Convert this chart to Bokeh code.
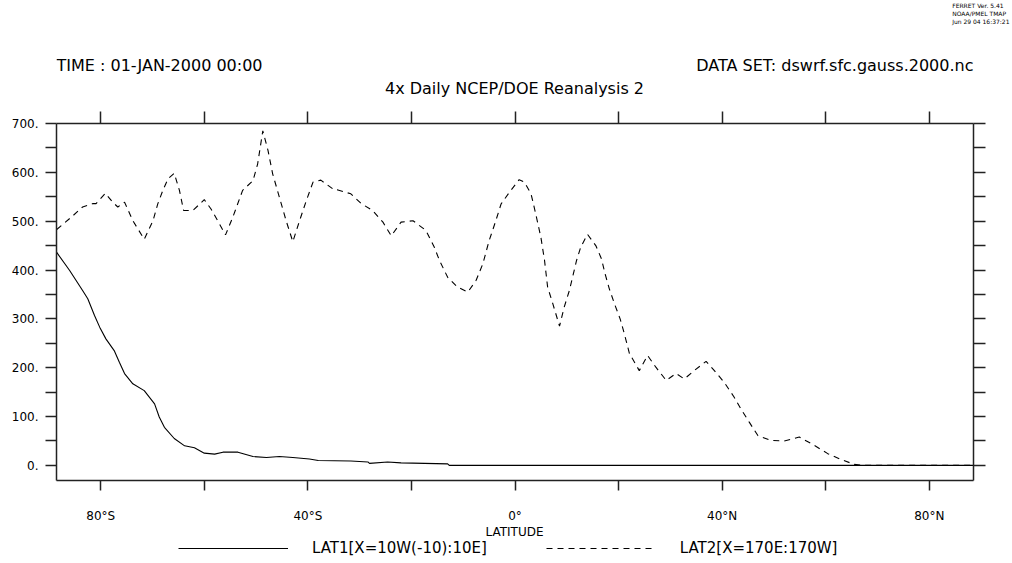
from bokeh.plotting import figure
from bokeh.layouts import column
from bokeh.models import LinearAxis, FixedTicker, Range1d, Label, Legend, LegendItem, Title
from bokeh.embed import file_html
from bokeh.resources import INLINE

# ---- data ----
lat1 = [-88.5, -86.0, -83.5, -82.5, -81.2, -80.2, -79.0, -77.4, -76.4, -75.4, -73.8, -71.6,
        -69.6, -68.7, -67.7, -65.8, -63.8, -61.9, -60.0, -58.0, -56.4, -53.5, -50.6, -48.0,
        -45.5, -42.9, -39.7, -38.0, -31.7, -28.4, -28.1, -24.6, -22.0, -13.0, -12.7, 88.5]
dswrf1 = [436, 399, 358, 341, 307, 283, 259, 235, 211, 188, 167, 153,
          126, 99, 78, 55, 40, 36, 25, 23, 27, 27, 18, 16,
          18, 16, 13, 10, 9, 7, 4, 7, 5, 3, 0, 0]

lat2 = [-88.5, -85.7, -83.5, -81.5, -80.9, -79.1, -77.7, -76.7, -75.4, -73.8, -71.6, -69.9,
        -69.0, -68.0, -67.0, -65.8, -64.8, -64.0, -62.2, -60.0, -58.7, -57.1, -55.9, -54.5,
        -52.6, -50.6, -49.7, -48.7, -47.7, -46.8, -45.5, -44.2, -42.9, -41.6, -40.3, -39.0,
        -37.5, -34.9, -34.2, -31.7, -29.7, -27.5, -25.5, -23.9, -22.0, -19.7, -17.2, -15.6,
        -14.6, -13.0, -11.1, -9.1, -7.5, -6.2, -5.0, -3.7, -2.7, -1.1, 0.8, 1.8,
        3.1, 4.0, 5.0, 5.7, 6.3, 7.3, 8.6, 9.5, 10.5, 11.9, 12.7, 14.0,
        15.6, 16.7, 17.4, 18.2, 19.2, 20.3, 21.1, 22.1, 24.0, 25.6, 27.2, 29.2,
        31.1, 32.7, 34.6, 36.9, 38.5, 40.4, 42.3, 43.6, 45.2, 46.9, 49.4, 52.0,
        54.9, 57.8, 60.4, 63.0, 65.5, 67.5, 88.5]
dswrf2 = [483, 508, 529, 536, 536, 557, 539, 529, 539, 501, 463, 501,
          535, 563, 587, 598, 563, 522, 522, 544, 525, 495, 472, 508,
          563, 583, 617, 685, 645, 597, 549, 501, 458, 501, 542, 580,
          584, 564, 564, 556, 536, 522, 498, 470, 498, 501, 481, 447,
          420, 385, 365, 355, 379, 413, 460, 501, 535, 559, 585, 580,
          556, 515, 467, 420, 365, 331, 285, 324, 358, 420, 447, 473,
          450, 423, 392, 362, 331, 300, 270, 229, 194, 225, 201, 174,
          188, 177, 194, 213, 194, 170, 140, 116, 89, 61, 51, 50,
          58, 41, 24, 12, 2, 0, 0]

x_major = [-80, -40, 0, 40, 80]
x_minor = [-60, -20, 20, 60]
x_labels = ["80°S", "40°S", "0°", "40°N", "80°N"]
y_major = [0, 100, 200, 300, 400, 500, 600, 700]
y_minor = [50, 150, 250, 350, 450, 550, 650]
y_labels = ["0.", "100.", "200.", "300.", "400.", "500.", "600.", "700."]
series_names = ["LAT1[X=10W(-10):10E]", "LAT2[X=170E:170W]"]

FONT = "DejaVu Sans"
W = 1012
HEAD_H = 100
HEAD_TOP = 26
F_LEFT, F_RIGHT, F_TOP, F_H = 56, 973, 123, 357
FOOT_H = 38
FOOT_TOP = 563 - FOOT_H

# ---- header strip (texts above the plot) ----
head = figure(width=W, frame_height=HEAD_H - HEAD_TOP,
              x_range=Range1d(F_LEFT, F_RIGHT), y_range=Range1d(HEAD_H, HEAD_TOP),
              output_backend="svg", toolbar_location=None,
              min_border_left=F_LEFT, min_border_right=W - F_RIGHT,
              min_border_top=HEAD_TOP, min_border_bottom=0,
              x_axis_location=None, y_axis_location=None)
head.grid.visible = False
head.outline_line_color = None

head.add_layout(Title(text="FERRET Ver. 5.41\nNOAA/PMEL TMAP\nJun 29 04 16:37:21",
                      align="right", offset=-(W - F_RIGHT - 3), standoff=0,
                      vertical_align="top", text_font=FONT, text_font_size="6px",
                      text_font_style="normal", text_line_height=1.15,
                      text_color="black"), "above")


def add_label(fig, x, y, text, size, align="left"):
    fig.add_layout(Label(x=x, y=y, text=text, text_font=FONT, text_font_size=size,
                         text_align=align, text_baseline="middle", text_color="black"))


add_label(head, 56, 65, "TIME : 01-JAN-2000 00:00", "16px")
add_label(head, 973, 65, "DATA SET: dswrf.sfc.gauss.2000.nc", "16px", "right")
add_label(head, 514, 88, "4x Daily NCEP/DOE Reanalysis 2", "16px", "center")

# ---- main plot ----
p = figure(frame_width=F_RIGHT - F_LEFT, frame_height=F_H,
           x_range=Range1d(-88.54, 88.54), y_range=Range1d(-31, 700),
           output_backend="svg", toolbar_location=None,
           min_border_left=F_LEFT, min_border_top=F_TOP - HEAD_H, min_border_right=W - F_RIGHT,
           min_border_bottom=0,
           x_axis_location=None, y_axis_location=None)
p.xgrid.visible = False
p.ygrid.visible = False
p.outline_line_color = None


def style_axis(ax, out):
    ax.axis_line_color = "#222222"
    ax.axis_line_width = 1.5
    ax.major_tick_line_color = "#222222"
    ax.minor_tick_line_color = "#222222"
    ax.major_tick_line_width = 1.5
    ax.minor_tick_line_width = 1.5
    ax.major_tick_in = 0
    ax.minor_tick_in = 0
    ax.major_tick_out = out
    ax.minor_tick_out = out
    ax.major_label_text_font = FONT
    ax.major_label_text_color = "black"


xb = LinearAxis(ticker=FixedTicker(ticks=x_major, minor_ticks=x_minor),
                major_label_overrides=dict(zip(x_major, x_labels)))
style_axis(xb, 10)
xb.major_label_text_font_size = "12px"
xb.major_label_standoff = 18
p.add_layout(xb, "below")

xt = LinearAxis(ticker=FixedTicker(ticks=x_major, minor_ticks=x_minor),
                major_label_overrides={t: "" for t in x_major})
style_axis(xt, 12)
xt.major_label_standoff = 0
p.add_layout(xt, "above")

yl = LinearAxis(ticker=FixedTicker(ticks=y_major, minor_ticks=y_minor),
                major_label_overrides=dict(zip(y_major, y_labels)))
style_axis(yl, 11)
yl.major_label_text_font_size = "12px"
yl.major_label_standoff = 7
p.add_layout(yl, "left")

yr = LinearAxis(ticker=FixedTicker(ticks=y_major, minor_ticks=y_minor),
                major_label_overrides={t: "" for t in y_major})
style_axis(yr, 12)
yr.major_label_standoff = 0
p.add_layout(yr, "right")

LINE1 = dict(line_color="black", line_width=1.1)
LINE2 = dict(line_color="black", line_width=1.1, line_dash="6 5")
p.line(lat1, dswrf1, **LINE1)
p.line(lat2, dswrf2, **LINE2)

# ---- footer strip: x-axis title and legend ----
foot = figure(width=W, frame_height=FOOT_H,
              x_range=Range1d(-88.54, 88.54), y_range=Range1d(-1000, -900),
              output_backend="svg", toolbar_location=None,
              min_border_left=F_LEFT, min_border_right=W - F_RIGHT,
              min_border_top=0, min_border_bottom=0,
              x_axis_location=None, y_axis_location=None)
foot.grid.visible = False
foot.outline_line_color = None

foot.add_layout(Label(x=514 - F_LEFT, y=FOOT_H - (531 - FOOT_TOP), x_units="screen",
                      y_units="screen", text="LATITUDE", text_font=FONT,
                      text_font_size="12px", text_align="center",
                      text_baseline="middle", text_color="black"))

# legend keys: same series, hidden in this strip (only their legend samples show)
k1 = foot.line(lat1, dswrf1, visible=False, **LINE1)
k2 = foot.line(lat2, dswrf2, visible=False, **LINE2)
legend = Legend(items=[LegendItem(label=series_names[0], renderers=[k1]),
                       LegendItem(label=series_names[1], renderers=[k2])],
                orientation="horizontal", glyph_width=110, glyph_height=12,
                label_standoff=24, spacing=59, border_line_color=None,
                background_fill_alpha=0, location=(178 - F_LEFT, 6), margin=0, padding=0,
                label_text_font=FONT, label_text_font_size="15px",
                label_text_color="black",
                label_height=12, inactive_fill_alpha=0, click_policy="none")
foot.add_layout(legend, "center")

open("out.html", "w").write(file_html(column(head, p, foot, spacing=0), INLINE))
